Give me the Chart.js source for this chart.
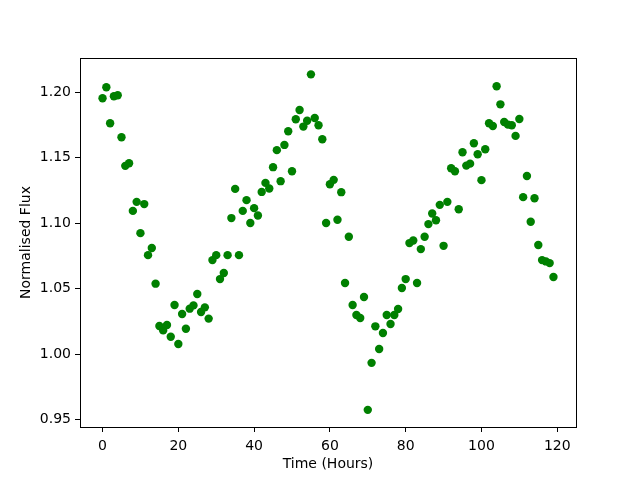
<!DOCTYPE html>
<html><head><meta charset="utf-8">
<script src="https://cdn.jsdelivr.net/npm/chart.js@4/dist/chart.umd.min.js"></script>
<style>html,body{margin:0;padding:0;background:#fff}#wrap{width:640px;height:480px;position:relative}</style>
</head><body><div id="wrap"><canvas id="c" width="640" height="480"></canvas></div>
<script>
const hours = [0,1,2,3,4,5,6,7,8,9,10,11,12,13,14,15,16,17,18,19,
  20,21,22,23,24,25,26,27,28,29,30,31,32,33,34,35,36,37,38,39,
  40,41,42,43,44,45,46,47,48,49,50,51,52,53,54,55,56,57,58,59,
  60,61,62,63,64,65,66,67,68,69,70,71,72,73,74,75,76,77,78,79,
  80,81,82,83,84,85,86,87,88,89,90,91,92,93,94,95,96,97,98,99,
  100,101,102,103,104,105,106,107,108,109,110,111,112,113,114,115,116,117,118,119];
const flux = [1.1954,1.2038,1.1763,1.1970,1.1977,1.1657,1.1438,1.1458,1.1094,1.1163,
  1.0924,1.1146,1.0756,1.0810,1.0538,1.0215,1.0181,1.0222,1.0133,1.0375,
  1.0077,1.0306,1.0194,1.0347,1.0372,1.0459,1.0322,1.0357,1.0271,1.0718,
  1.0756,1.0573,1.0619,1.0756,1.1039,1.1262,1.0756,1.1094,1.1176,1.1001,
  1.1115,1.1059,1.1239,1.1308,1.1265,1.1428,1.1558,1.1321,1.1598,1.1702,
  1.1397,1.1794,1.1865,1.1738,1.1783,1.2137,1.1804,1.1748,1.1641,1.1001,
  1.1298,1.1331,1.1026,1.1237,1.0543,1.0896,1.0375,1.0299,1.0276,1.0436,
  0.9574,0.9933,1.0212,1.0039,1.0161,1.0299,1.0230,1.0299,1.0345,1.0505,
  1.0573,1.0848,1.0868,1.0543,1.0802,1.0896,1.0993,1.1074,1.1023,1.1140,
  1.0827,1.1163,1.1420,1.1397,1.1107,1.1542,1.1440,1.1455,1.1611,1.1527,
  1.1329,1.1565,1.1763,1.1743,1.2046,1.1908,1.1773,1.1753,1.1748,1.1667,
  1.1796,1.1199,1.1361,1.1011,1.1191,1.0833,1.0718,1.0708,1.0695,1.0589];
const xTicks = [0,20,40,60,80,100,120];
const yTicks = [0.95,1.00,1.05,1.10,1.15,1.20];
const xTitle = 'Time (Hours)';
const yTitle = 'Normalised Flux';

const points = hours.map((h,i)=>({x:h,y:flux[i]}));
const FONT = {family:'DejaVu Sans', size:14, lineHeight:1.2};

const frame = {
  id:'frame',
  afterDatasetsDraw(c){
    const {ctx, chartArea:a} = c;
    ctx.save();
    ctx.strokeStyle = '#000';
    ctx.lineWidth = 1;
    ctx.strokeRect(Math.round(a.left)+0.5, Math.round(a.top)+0.5,
      Math.round(a.right-a.left), Math.round(a.bottom-a.top));
    ctx.restore();
  }
};

new Chart(document.getElementById('c'), {
  type:'scatter',
  data:{datasets:[{data:points, backgroundColor:'#008000', borderColor:'#008000',
    pointRadius:4.2, pointBorderWidth:0, pointHoverRadius:4.2}]},
  options:{
    responsive:false, animation:false, devicePixelRatio:1,
    layout:{padding:{top:58,right:64,left:0,bottom:0}},
    plugins:{legend:{display:false}, tooltip:{enabled:false}},
    scales:{
      x:{type:'linear', min:-5.95, max:124.95,
        afterBuildTicks:s=>{s.ticks = xTicks.map(v=>({value:v}));},
        afterFit:s=>{s.height = 53;},
        border:{display:false},
        grid:{drawOnChartArea:false, drawTicks:true, tickLength:5, color:'#000', lineWidth:1},
        ticks:{color:'#000', font:FONT, padding:6, maxRotation:0, autoSkip:false,
          callback:v=>String(v)},
        title:{display:true, text:xTitle, color:'#000', font:FONT, padding:{top:2,bottom:7}}
      },
      y:{type:'linear', min:0.9443, max:1.2262,
        afterBuildTicks:s=>{s.ticks = yTicks.map(v=>({value:v}));},
        afterFit:s=>{s.width = 80;},
        border:{display:false},
        grid:{drawOnChartArea:false, drawTicks:true, tickLength:5, color:'#000', lineWidth:1},
        ticks:{color:'#000', font:FONT, padding:4, autoSkip:false,
          callback:v=>v.toFixed(2)},
        title:{display:true, text:yTitle, color:'#000', font:FONT, padding:{top:18,bottom:2}}
      }
    }
  },
  plugins:[frame]
});
</script></body></html>
